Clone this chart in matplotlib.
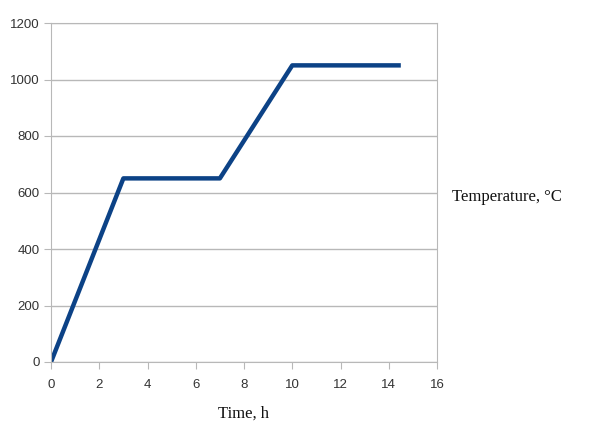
import matplotlib.pyplot as plt

# Perfil de temperatura
time_h = [0, 3, 7, 10, 14.5]
temp_c = [0, 650, 650, 1050, 1050]

x_ticks = [0, 2, 4, 6, 8, 10, 12, 14, 16]
y_ticks = [0, 200, 400, 600, 800, 1000, 1200]

fig = plt.figure(figsize=(6.04, 4.28), dpi=100)
ax = fig.add_axes([51 / 604, 66 / 428, 386 / 604, 339 / 428])

ax.plot(time_h, temp_c, color="#0c4286", linewidth=3.2, solid_capstyle="butt")

ax.set_xlim(0, 16)
ax.set_ylim(0, 1200)
ax.set_xticks(x_ticks)
ax.set_yticks(y_ticks)
ax.grid(axis="y", color="#b8b8b8", linewidth=1)
ax.set_axisbelow(True)

for side in ["left", "bottom", "right", "top"]:
    ax.spines[side].set_color("#b8b8b8")
ax.tick_params(color="#b8b8b8", length=5, labelsize=9.5, labelcolor="#333333")
ax.tick_params(axis="x", pad=7)
ax.tick_params(axis="y", pad=3)
for lbl in ax.get_xticklabels() + ax.get_yticklabels():
    lbl.set_fontfamily("Liberation Sans")

fig.text(243 / 604, 1 - 414 / 428, "Time, h", ha="center", va="center",
         fontsize=12, family="Liberation Serif", color="#111111")
fig.text(452 / 604, 1 - 197 / 428, "Temperature, \u00b0C", ha="left",
         va="center", fontsize=12, family="Liberation Serif", color="#111111")

fig.savefig("out.png", dpi=100)
plt.close(fig)
